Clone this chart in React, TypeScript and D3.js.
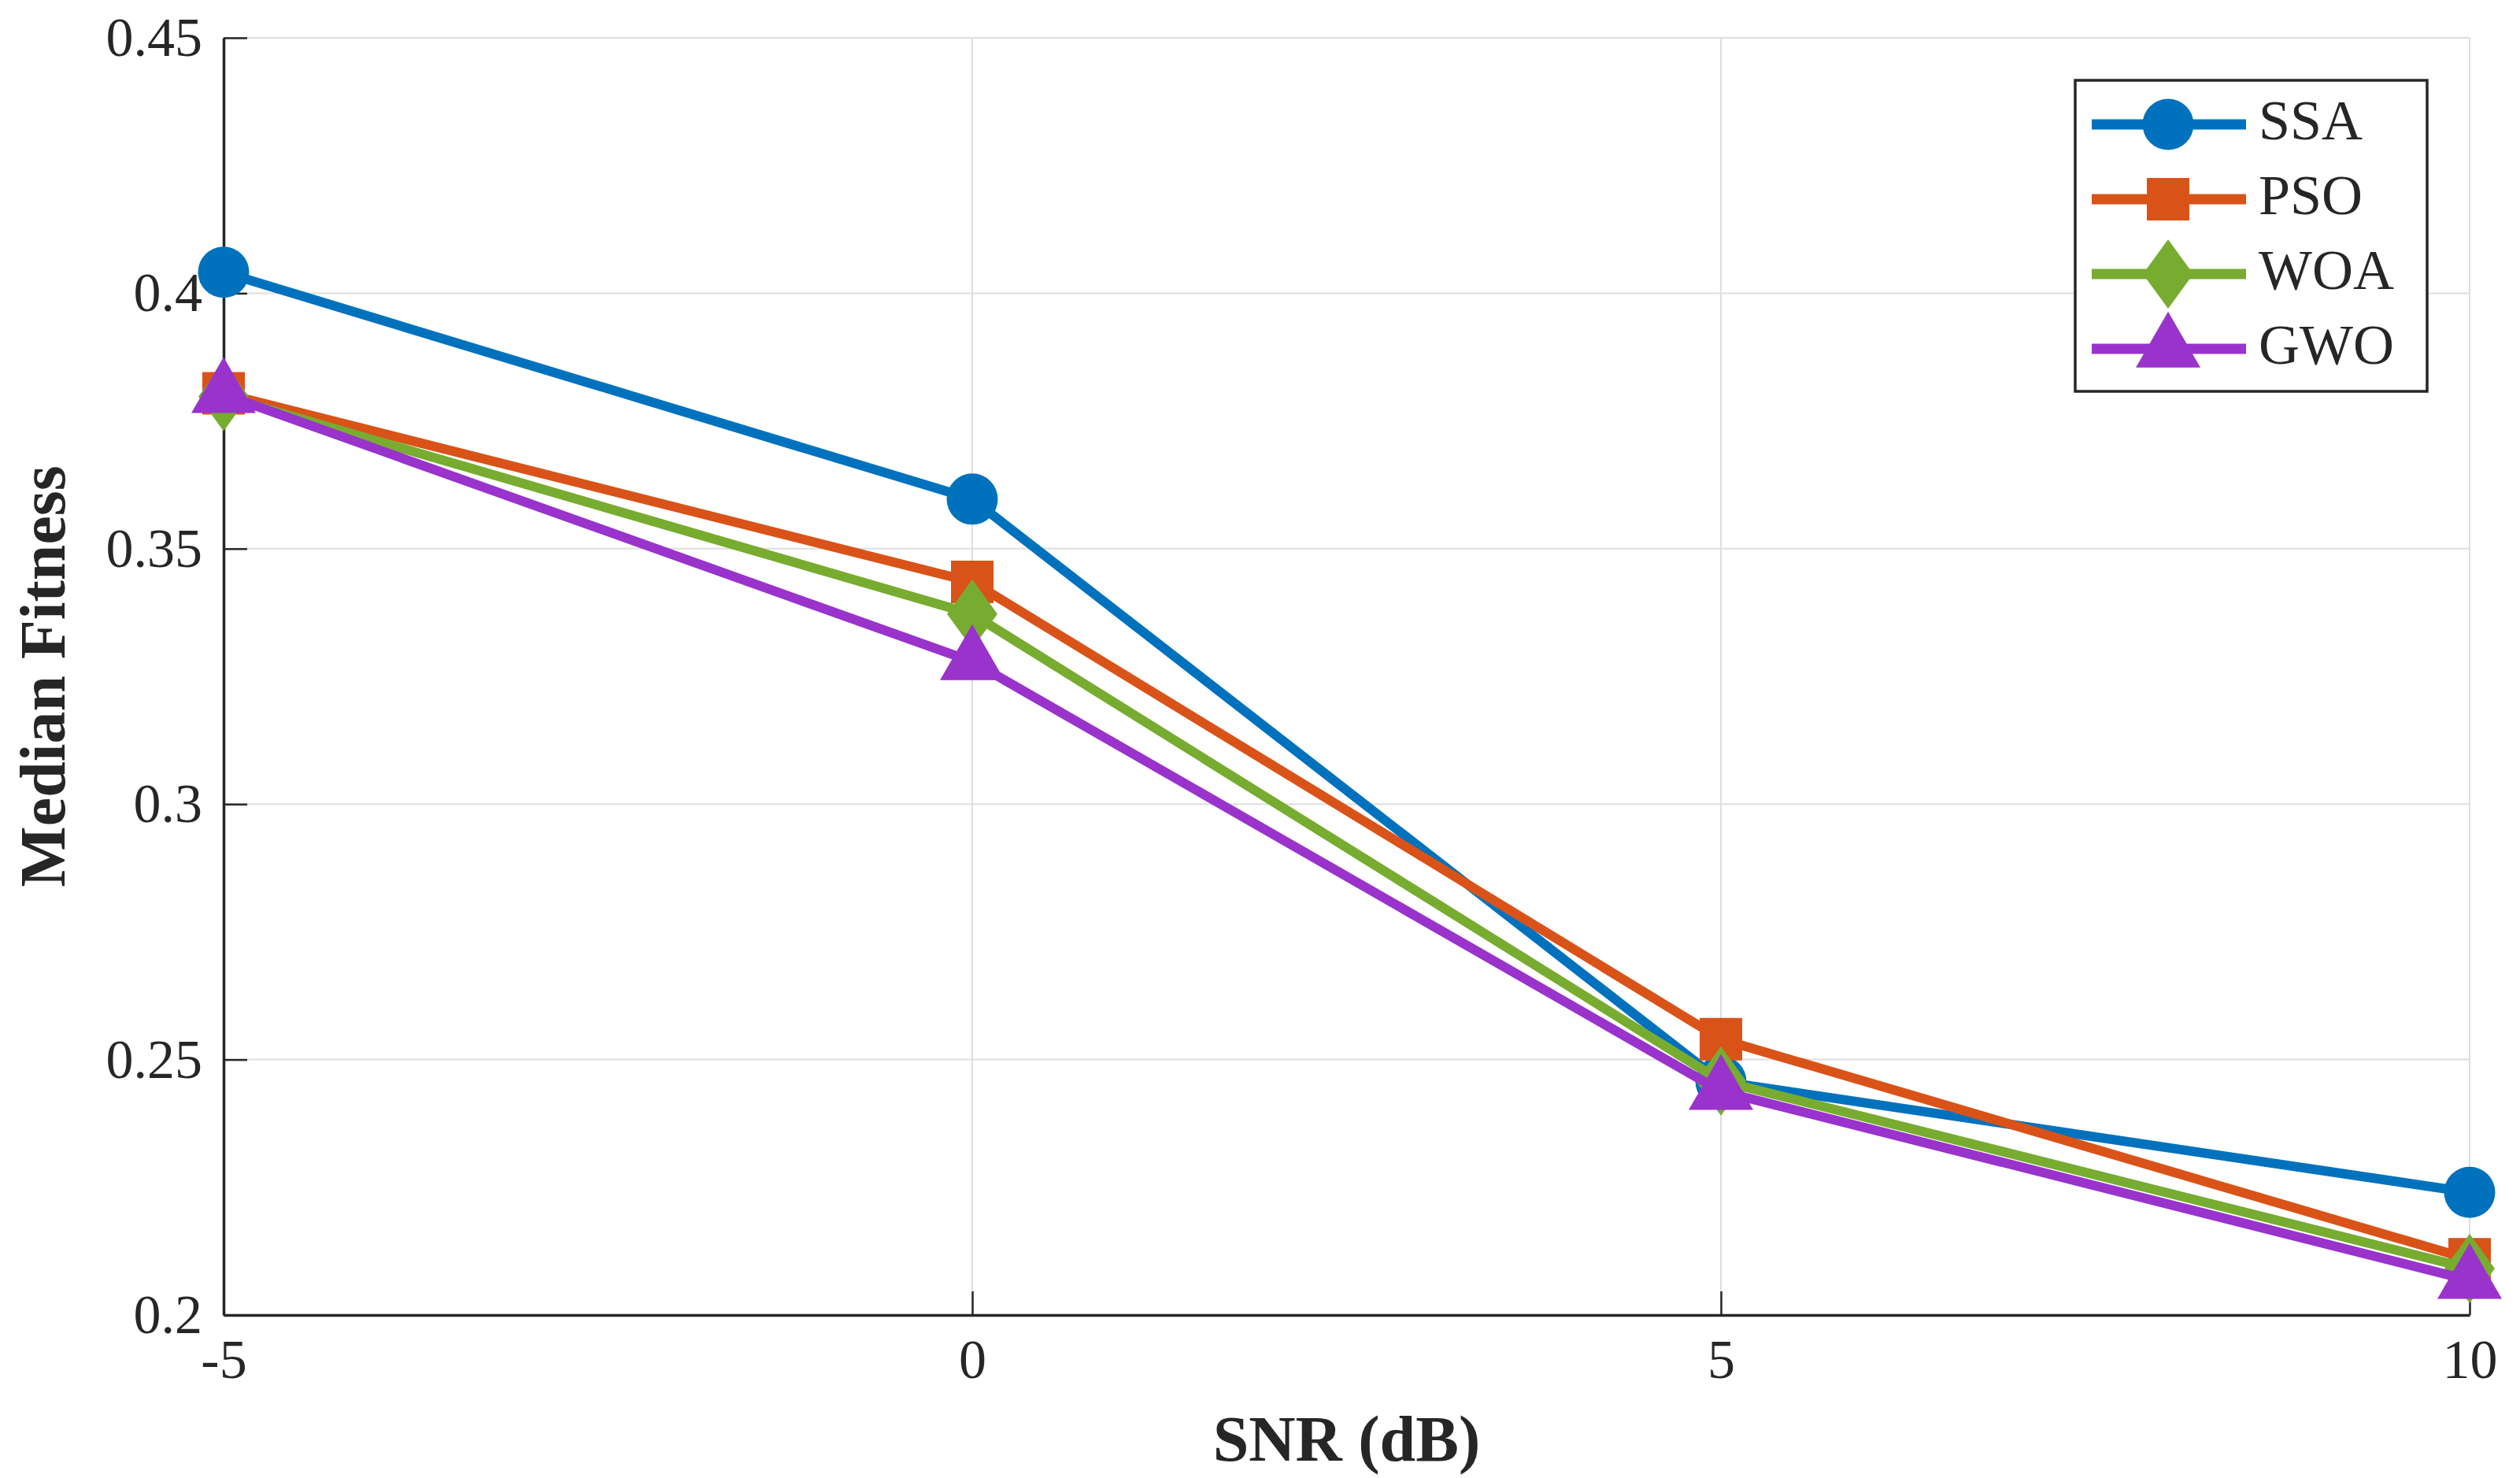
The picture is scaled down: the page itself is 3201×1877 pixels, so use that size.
import React, { useEffect, useRef } from "react";
import * as d3 from "d3";

// SNR levels (dB) on the x axis
const snrLevels = [-5, 0, 5, 10];

// median fitness per algorithm
const ssaValues = [0.4041, 0.3597, 0.2457, 0.224];
const psoValues = [0.3804, 0.3435, 0.254, 0.2109];
const woaValues = [0.3798, 0.3372, 0.2458, 0.2091];
const gwoValues = [0.3802, 0.3279, 0.2438, 0.2068];

const seriesNames = ["SSA", "PSO", "WOA", "GWO"];
const xTicks = [-5, 0, 5, 10];
const yTicks = [0.2, 0.25, 0.3, 0.35, 0.4, 0.45];

const colors = ["#0072BD", "#D95319", "#77AC30", "#9933CC"];
const markerKinds = ["circle", "square", "diamond", "triangle"];

const W = 3201;
const H = 1877;
const FONT = "'Liberation Serif', 'Times New Roman', serif";
const TEXT = "#262626";

// marker outline, centred on 0,0
const markerPath = (kind: string) => {
    if (kind === "circle") {
        const r = 32.5;
        return `M${-r},0A${r},${r} 0 1,0 ${r},0A${r},${r} 0 1,0 ${-r},0Z`;
    }
    if (kind === "square") {
        const s = 27;
        return `M${-s},${-s}H${s}V${s}H${-s}Z`;
    }
    if (kind === "diamond") {
        const w = 32, h = 44;
        return `M0,${-h}L${w},0L0,${h}L${-w},0Z`;
    }
    // triangle, centroid at the data point
    const hw = 41, ht = 71;
    return `M0,${(-2 * ht) / 3}L${hw},${ht / 3}L${-hw},${ht / 3}Z`;
};

const Chart = () => {
    const svgRef = useRef<SVGSVGElement>(null);

    useEffect(() => {
        const margin = { top: 48, right: 64, bottom: 207, left: 284 };
        const innerWidth = W - margin.left - margin.right;
        const innerHeight = H - margin.top - margin.bottom;

        const svg = d3.select(svgRef.current);
        svg.selectAll("*").remove();

        const g = svg
            .append("g")
            .attr("transform", `translate(${margin.left}, ${margin.top})`);

        const x = d3.scaleLinear().domain([-5, 10]).range([0, innerWidth]);
        const y = d3.scaleLinear().domain([0.2, 0.45]).range([innerHeight, 0]);

        // grid
        g.append("g")
            .selectAll("line")
            .data(yTicks.slice(1))
            .join("line")
            .attr("x1", 0)
            .attr("x2", innerWidth)
            .attr("y1", (d) => y(d))
            .attr("y2", (d) => y(d))
            .attr("stroke", "#dedede")
            .attr("stroke-width", 2);

        g.append("g")
            .selectAll("line")
            .data(xTicks.slice(1))
            .join("line")
            .attr("x1", (d) => x(d))
            .attr("x2", (d) => x(d))
            .attr("y1", 0)
            .attr("y2", innerHeight)
            .attr("stroke", "#dedede")
            .attr("stroke-width", 2);

        // axes
        const yAxis = g
            .append("g")
            .call(
                d3.axisLeft(y)
                    .tickValues(yTicks)
                    .tickFormat((d) => String(+d))
                    .tickSizeInner(-30)
                    .tickSizeOuter(0)
                    .tickPadding(27)
            );
        yAxis.select(".domain").attr("stroke", TEXT).attr("stroke-width", 3.5);
        yAxis.selectAll(".tick line").attr("stroke", TEXT).attr("stroke-width", 2.5);
        yAxis
            .selectAll("text")
            .attr("fill", TEXT)
            .style("font-family", FONT)
            .style("font-size", "70px");

        const xAxis = g
            .append("g")
            .attr("transform", `translate(0, ${innerHeight})`)
            .call(
                d3.axisBottom(x)
                    .tickValues(xTicks)
                    .tickFormat((d) => String(d))
                    .tickSizeInner(-30)
                    .tickSizeOuter(0)
                    .tickPadding(30)
            );
        xAxis.select(".domain").attr("stroke", TEXT).attr("stroke-width", 3.5);
        xAxis.selectAll(".tick line").attr("stroke", TEXT).attr("stroke-width", 2.5);
        xAxis
            .selectAll("text")
            .attr("fill", TEXT)
            .style("font-family", FONT)
            .style("font-size", "70px");

        // axis labels
        g.append("text")
            .attr("x", innerWidth / 2)
            .attr("y", innerHeight + 185)
            .attr("text-anchor", "middle")
            .attr("fill", TEXT)
            .style("font-family", FONT)
            .style("font-size", "82px")
            .style("font-weight", "bold")
            .text("SNR (dB)");

        g.append("text")
            .attr("transform", `translate(${82 - margin.left}, ${innerHeight / 2}) rotate(-90)`)
            .attr("text-anchor", "middle")
            .attr("fill", TEXT)
            .style("font-family", FONT)
            .style("font-size", "82px")
            .style("font-weight", "bold")
            .text("Median Fitness");

        // series
        const allValues = [ssaValues, psoValues, woaValues, gwoValues];
        const series = seriesNames.map((name, i) => ({
            name,
            color: colors[i],
            kind: markerKinds[i],
            points: snrLevels.map((s, j) => ({ snr: s, value: allValues[i][j] })),
        }));

        const line = d3
            .line<{ snr: number; value: number }>()
            .x((d) => x(d.snr))
            .y((d) => y(d.value));

        series.forEach((s) => {
            const sg = g.append("g");
            sg.append("path")
                .attr("d", line(s.points))
                .attr("fill", "none")
                .attr("stroke", s.color)
                .attr("stroke-width", 12)
                .attr("stroke-linejoin", "round");
            sg.selectAll("path.marker")
                .data(s.points)
                .join("path")
                .attr("class", "marker")
                .attr("d", markerPath(s.kind))
                .attr("transform", (d) => `translate(${x(d.snr)}, ${y(d.value)})`)
                .attr("fill", s.color);
        });

        // legend
        const lg = svg.append("g").attr("transform", "translate(2636, 102)");
        lg.append("rect")
            .attr("width", 447)
            .attr("height", 395)
            .attr("fill", "white")
            .attr("stroke", TEXT)
            .attr("stroke-width", 3.5);

        series.forEach((s, i) => {
            const cy = 56 + i * 95;
            const row = lg.append("g").attr("transform", `translate(0, ${cy})`);
            row.append("line")
                .attr("x1", 21)
                .attr("x2", 217)
                .attr("stroke", s.color)
                .attr("stroke-width", 13);
            row.append("path")
                .attr("d", markerPath(s.kind))
                .attr("transform", "translate(118, 0)")
                .attr("fill", s.color);
            row.append("text")
                .attr("x", 233)
                .attr("y", 19)
                .attr("fill", TEXT)
                .style("font-family", FONT)
                .style("font-size", "72px")
                .text(s.name);
        });
    }, []);

    return (
        <svg
            ref={svgRef}
            width={W}
            height={H}
            style={{ position: "absolute", left: 0, top: 0, background: "white" }}
        />
    );
};

export default function App() {
    return <Chart />;
}
